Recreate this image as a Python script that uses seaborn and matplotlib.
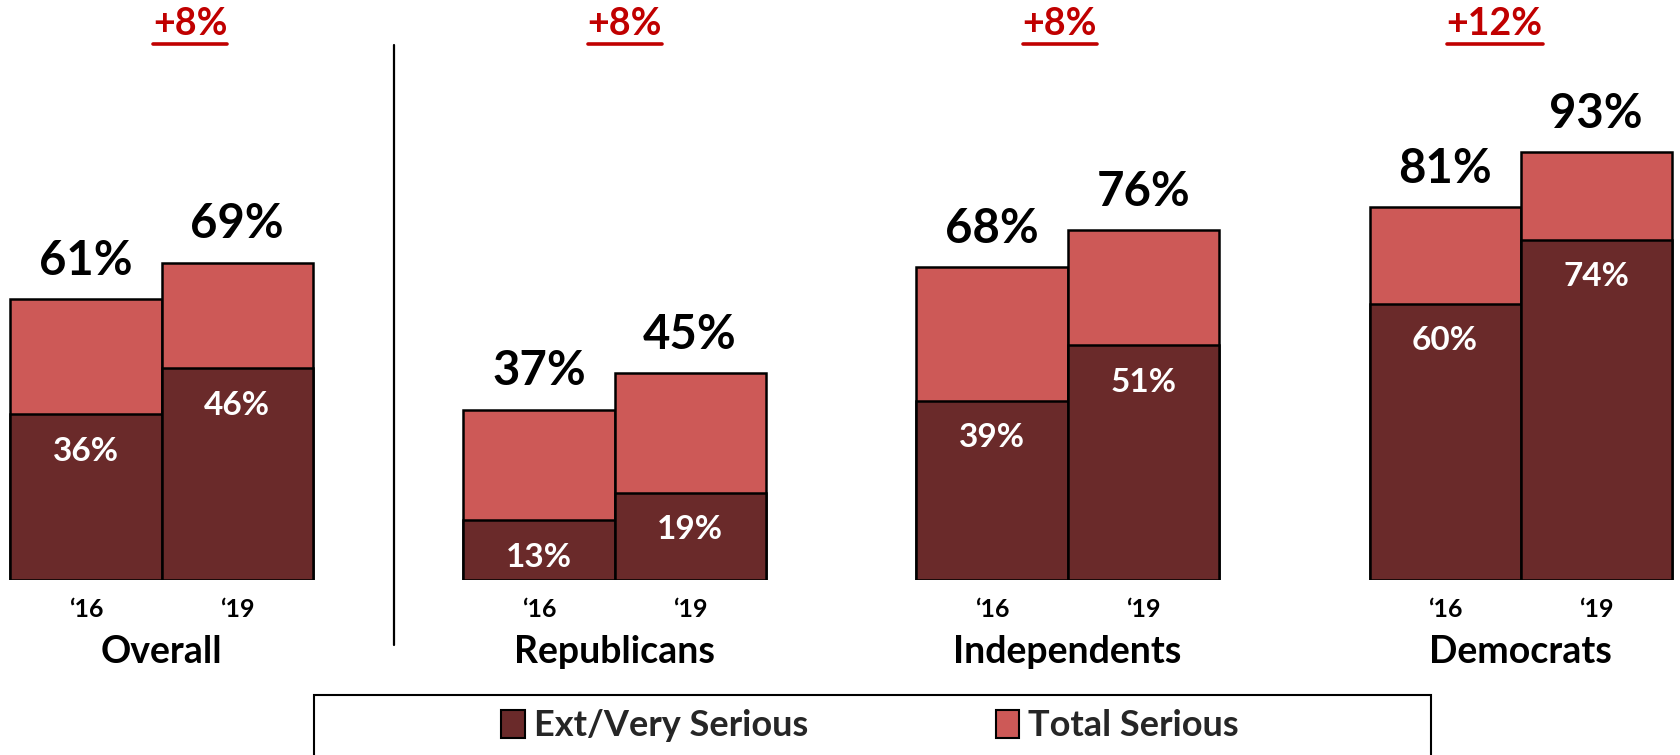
import pandas as pd
import matplotlib.pyplot as plt
import seaborn as sns
from matplotlib.patches import Patch, Rectangle
from matplotlib.lines import Line2D

sns.set_style('white')
plt.rcParams['font.family'] = ['Lato', 'DejaVu Sans']
plt.rcParams['font.weight'] = 'bold'

# data
groups = ['Overall', 'Republicans', 'Independents', 'Democrats']
years = ['\u201816', '\u201819']
total_16 = [61, 37, 68, 81]
total_19 = [69, 45, 76, 93]
ext_16 = [36, 13, 39, 60]
ext_19 = [46, 19, 51, 74]
change = ['+8%', '+8%', '+8%', '+12%']

DARK = '#6A2A2A'
LIGHT = '#CD5957'
RED = '#C00000'

rows = []
for i, g in enumerate(groups):
    rows.append({'group': g, 'year': years[0], 'total': total_16[i], 'ext': ext_16[i]})
    rows.append({'group': g, 'year': years[1], 'total': total_19[i], 'ext': ext_19[i]})
df = pd.DataFrame(rows)

fig = plt.figure(figsize=(16.81, 7.55), dpi=100)
ax = fig.add_axes([0, 175 / 755, 1, 580 / 755])

# light "total" bars first, then the dark "ext" part over them
sns.barplot(data=df, x='group', y='total', hue='year', hue_order=years, order=groups,
            palette=[LIGHT, LIGHT], saturation=1, width=0.667, gap=0,
            edgecolor='black', linewidth=1.8, legend=False, ax=ax)
sns.barplot(data=df, x='group', y='ext', hue='year', hue_order=years, order=groups,
            palette=[DARK, DARK], saturation=1, width=0.667, gap=0,
            edgecolor='black', linewidth=1.8, legend=False, ax=ax)

ax.set_xlim(-0.3565, 3.354)
ax.set_ylim(0, 126.1)
ax.axis('off')

for j, yr in enumerate(years):
    tot_bars = ax.containers[j]
    sub = df[df['year'] == yr].set_index('group').loc[groups]
    for k, g in enumerate(groups):
        p = tot_bars[k]
        xc = p.get_x() + p.get_width() / 2
        tv = sub['total'].iloc[k]
        ev = sub['ext'].iloc[k]
        ax.text(xc, tv + 5.3, f'{tv}%', ha='center', va='baseline', fontsize=34,
                fontweight='bold', color='black', clip_on=False)
        ax.text(xc, ev - 8, f'{ev}%', ha='center', va='center', fontsize=24,
                fontweight='bold', color='white', clip_on=False)
        ax.text(xc, -6.4, yr, ha='center', va='center', fontsize=18,
                fontweight='bold', color='black', clip_on=False)

change_texts = []
for k, g in enumerate(groups):
    ax.text(k, -15.7, g, ha='center', va='center', fontsize=27,
            fontweight='bold', color='black', clip_on=False)
    # the change labels sit on a slightly tighter spacing than the bar groups
    t = ax.text(0.063 + k * 0.96, 120.8, change[k], ha='center', va='center', fontsize=27,
                fontweight='bold', color=RED, clip_on=False)
    change_texts.append(t)

# divider between Overall and the party groups
ax.plot([0.513, 0.513], [116.3, -14.1], color='black', linewidth=1.6, clip_on=False)

# legend box (runs off the bottom edge like the original)
fig.patches.append(Rectangle((314 / 1681, -0.02), 1117 / 1681, (60 / 755) + 0.02,
                             transform=fig.transFigure, facecolor='white',
                             edgecolor='black', linewidth=1.5))
handles = [Patch(facecolor=DARK, edgecolor='black', linewidth=1.5),
           Patch(facecolor=LIGHT, edgecolor='black', linewidth=1.5)]
fig.legend(handles, ['Ext/Very Serious', 'Total Serious'], loc='center',
           bbox_to_anchor=(870 / 1681, 29 / 755), ncol=2, frameon=False,
           handlelength=0.65, handleheight=0.85, handletextpad=0.25,
           columnspacing=5.2, prop={'weight': 'bold', 'size': 26})

# underline the change labels
fig.canvas.draw()
inv = fig.transFigure.inverted()
for t in change_texts:
    bb = t.get_window_extent()
    (x0, y0), (x1, _) = inv.transform([(bb.x0, bb.y0), (bb.x1, bb.y1)])
    fig.lines.append(Line2D([x0, x1], [y0 - 3 / 755, y0 - 3 / 755],
                            transform=fig.transFigure, color=RED, linewidth=2.6))

fig.savefig('out.png', dpi=100)
plt.close(fig)
